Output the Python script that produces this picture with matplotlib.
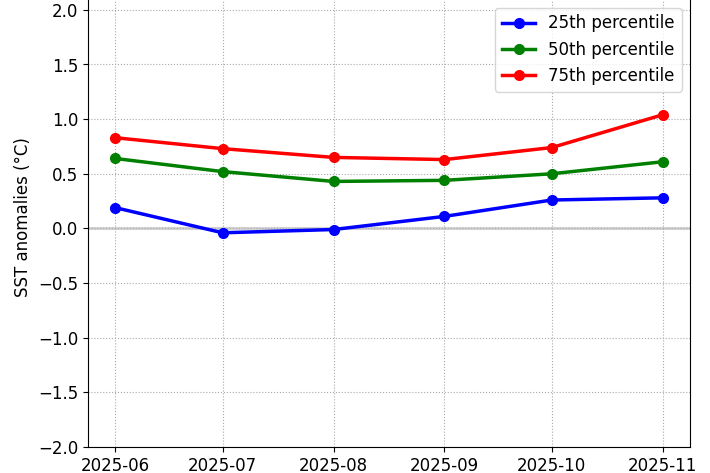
#!/usr/bin/env python
# -*- coding: utf-8 -*-

import datetime as dt
import matplotlib
matplotlib.use("Agg")
import matplotlib.pyplot as plt
import matplotlib.dates as mdates

months = ["2025-06", "2025-07", "2025-08", "2025-09", "2025-10", "2025-11"]
p25 = [0.19, -0.04, -0.01, 0.11, 0.26, 0.28]
p50 = [0.64, 0.52, 0.43, 0.44, 0.50, 0.61]
p75 = [0.83, 0.73, 0.65, 0.63, 0.74, 1.04]


def main():
    dates = [dt.datetime.strptime(m, "%Y-%m") for m in months]

    fig = plt.figure(figsize=(7.1, 4.73), dpi=100)
    # axes deliberately taller than the figure: top spine falls outside
    ax = fig.add_axes([88 / 710., 26 / 473., 602 / 710., 459 / 473.])

    ax.axhline(0, color="lightgray", lw=2.2, zorder=1)
    ax.plot(dates, p25, "-o", color="blue", lw=2.5, ms=7, label="25th percentile")
    ax.plot(dates, p50, "-o", color="green", lw=2.5, ms=7, label="50th percentile")
    ax.plot(dates, p75, "-o", color="red", lw=2.5, ms=7, label="75th percentile")

    ax.set_ylim(-2.0, 2.2)
    ax.set_yticks([-2.0, -1.5, -1.0, -0.5, 0.0, 0.5, 1.0, 1.5, 2.0])
    ax.set_xticks(dates)
    ax.xaxis.set_major_formatter(mdates.DateFormatter("%Y-%m"))
    ax.tick_params(labelsize=12)
    ax.grid(True, linestyle=":", color="darkgray")
    ax.set_ylabel("SST anomalies (°C)", fontsize=12)
    ax.legend(loc="upper right", fontsize=12, bbox_to_anchor=(1.0, 0.975))

    fig.savefig("out.png", dpi=100)


if __name__ == '__main__':
    main()
